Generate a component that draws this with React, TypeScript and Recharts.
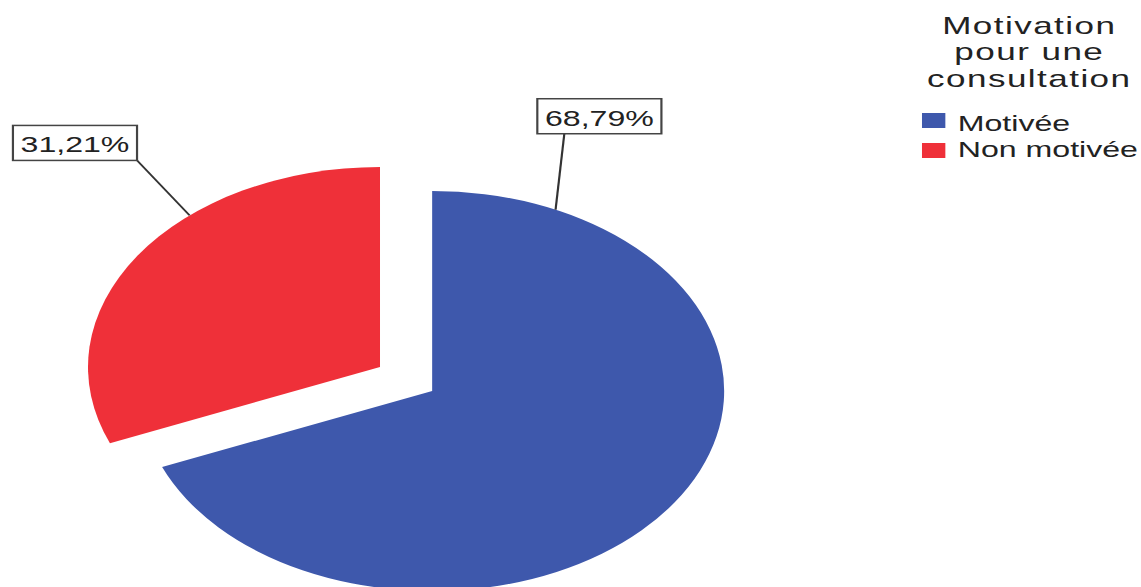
import React from 'react';
import { PieChart, Pie, Cell, Customized } from 'recharts';

const CATEGORIES = ['Motivée', 'Non motivée'];
const PERCENTS = [68.79, 31.21];
const LEGEND_TITLE = ['Motivation', 'pour une', 'consultation'];

const COLORS = ['#3E58AC', '#EF3039'];
const FONT = '"Liberation Sans", Arial, sans-serif';

// the source picture is stretched horizontally, so the whole chart is drawn narrow and scaled
const STRETCH = 1.46;
const W = Math.round(1141 / STRETCH);
const H = 587;
const CX = 296;
const CY = 391;
const R = 200;
const EXPLODE = 43;
const RADIAN = Math.PI / 180;

// where each leader line touches the arc (recharts angle) and how it runs to its box
const LABEL_ANGLE = [65, 130.7];
const LEADER = [
  { dx: 6, dy: -76, boxDx: -18.5 },
  { dx: -36, dy: -55, boxDx: -85 },
];
const BOX_W = 85;
const BOX_H = 35;

const data = CATEGORIES.map((name, i) => ({ name, value: PERCENTS[i] }));

const total = PERCENTS.reduce((s, v) => s + v, 0);
const redMid = 90 - (360 * (PERCENTS[0] + PERCENTS[1] / 2)) / total;
const RED_CX = CX + EXPLODE * Math.cos(redMid * RADIAN);
const RED_CY = CY - EXPLODE * Math.sin(redMid * RADIAN);

const fmt = (v: number) => v.toFixed(2).replace('.', ',') + '%';

const makeLabel = (which: number) => (props: any) => {
  if (props.index !== which) return null;
  const { cx, cy, outerRadius, value } = props;
  const a = LABEL_ANGLE[which] * RADIAN;
  const ax = cx + outerRadius * Math.cos(a);
  const ay = cy - outerRadius * Math.sin(a);
  const lx = ax + LEADER[which].dx;
  const ly = ay + LEADER[which].dy;
  const bx = lx + LEADER[which].boxDx;
  const by = ly - BOX_H;
  return (
    <g>
      <line x1={ax} y1={ay} x2={lx} y2={ly} stroke="#333" strokeWidth={1.5} />
      <rect x={bx} y={by} width={BOX_W} height={BOX_H} fill="#fff" stroke="#444" strokeWidth={1.5} />
      <text
        x={bx + BOX_W / 2}
        y={by + BOX_H - 8}
        textAnchor="middle"
        fontFamily={FONT}
        fontSize={22}
        fill="#222"
      >
        {fmt(value)}
      </text>
    </g>
  );
};

const LegendBlock = () => (
  <g fontFamily={FONT} fill="#222">
    {LEGEND_TITLE.map((t, i) => (
      <text key={t} x={705} y={34 + i * 26.3} textAnchor="middle" fontSize={24} letterSpacing={1}>
        {t}
      </text>
    ))}
    {CATEGORIES.map((c, i) => (
      <g key={c}>
        <rect x={631.5} y={113 + i * 30} width={16} height={15} fill={COLORS[i]} />
        <text x={656} y={131 + i * 26.5} fontSize={22}>
          {c}
        </text>
      </g>
    ))}
  </g>
);

export default function App() {
  return (
    <div
      style={{
        position: 'absolute',
        left: 0,
        top: 0,
        width: W,
        height: H,
        transform: `scaleX(${STRETCH})`,
        transformOrigin: '0 0',
        background: '#fff',
      }}
    >
      <PieChart width={W} height={H} margin={{ top: 0, right: 0, bottom: 0, left: 0 }}>
        <Pie
          data={data}
          dataKey="value"
          nameKey="name"
          cx={CX}
          cy={CY}
          outerRadius={R}
          startAngle={90}
          endAngle={-270}
          stroke="none"
          isAnimationActive={false}
          labelLine={false}
          label={makeLabel(0)}
        >
          <Cell fill={COLORS[0]} />
          <Cell fill="transparent" />
        </Pie>
        <Pie
          data={data}
          dataKey="value"
          nameKey="name"
          cx={RED_CX}
          cy={RED_CY}
          outerRadius={R}
          startAngle={90}
          endAngle={-270}
          stroke="none"
          isAnimationActive={false}
          labelLine={false}
          label={makeLabel(1)}
        >
          <Cell fill="transparent" />
          <Cell fill={COLORS[1]} />
        </Pie>
        <Customized component={LegendBlock} />
      </PieChart>
    </div>
  );
}
